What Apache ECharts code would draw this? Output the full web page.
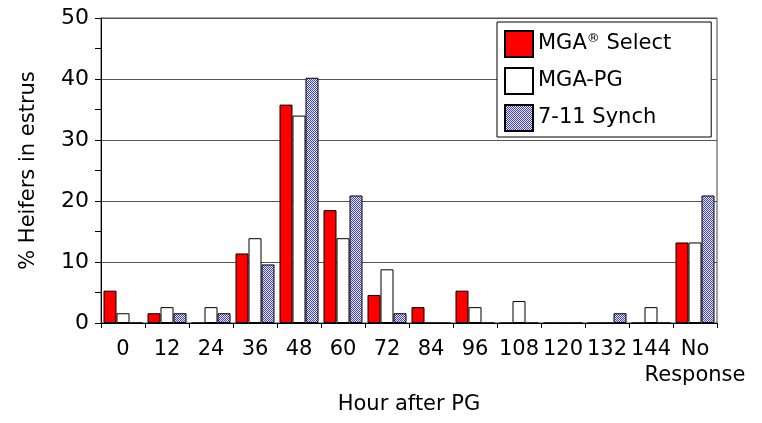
<!DOCTYPE html>
<html><head><meta charset="utf-8">
<script src="https://cdn.jsdelivr.net/npm/echarts@6/dist/echarts.min.js"></script>
<style>html,body{margin:0;padding:0;background:#fff}#c{width:762px;height:423px}</style>
</head><body><div id="c"></div>
<script>
var categories = ['0','12','24','36','48','60','72','84','96','108','120','132','144','No\nResponse'];
var seriesNames = ['MGA® Select','MGA-PG','7-11 Synch'];
var mgaSelect = [5.3,1.6,0,11.4,35.8,18.5,4.6,2.6,5.3,0,0,0,0,13.2];
var mgaPG     = [1.6,2.6,2.6,13.9,34.0,13.9,8.8,0,2.6,3.6,0,0,2.6,13.2];
var synch711  = [0,1.6,1.6,9.6,40.2,20.9,1.6,0,0,0,0,1.6,0,20.9];
var yTicks = [0,10,20,30,40,50];

var pc = document.createElement('canvas'); pc.width = 2; pc.height = 2;
var pctx = pc.getContext('2d');
pctx.fillStyle = '#e4e4fa'; pctx.fillRect(0,0,2,2);
pctx.fillStyle = '#4646b0'; pctx.fillRect(0,0,1,1); pctx.fillRect(1,1,1,1);

var FONT = 'DejaVu Sans';
var chart = echarts.init(document.getElementById('c'), null, {renderer:'canvas'});
function bar(name, data, color){
  return {name:name, type:'bar', data:data, barWidth:13, barGap:'0%',
    itemStyle:{color:color, borderColor:'#000', borderWidth:1}, emphasis:{disabled:true}};
}
chart.setOption({
  animation:false,
  textStyle:{fontFamily:FONT},
  grid:{left:101, right:45, top:18, bottom:100, show:true, borderColor:'#444', borderWidth:1, backgroundColor:'transparent'},
  legend:{orient:'vertical', left:497, top:22, padding:[8,40,5,7], itemGap:9, itemWidth:28, itemHeight:26,
    backgroundColor:'#fff', borderColor:'#000', borderWidth:1, icon:'rect',
    textStyle:{fontFamily:FONT, fontSize:21, color:'#000',
      rich:{sup:{fontFamily:FONT, fontSize:13, color:'#000', padding:[0,0,10,0]}}},
    formatter:function(n){ return n.replace('®','{sup|®}'); },
    data:seriesNames},
  xAxis:{type:'category', data:categories,
    axisLine:{lineStyle:{color:'#000', width:1}},
    axisTick:{show:true, length:5, lineStyle:{color:'#000'}},
    axisLabel:{interval:0, fontSize:21, color:'#000', margin:14, lineHeight:26, fontFamily:FONT},
    name:'Hour after PG', nameLocation:'middle', nameGap:50,
    nameTextStyle:{fontSize:21, color:'#000', fontFamily:FONT}},
  yAxis:{type:'value', min:yTicks[0], max:yTicks[yTicks.length-1], interval:10,
    axisLine:{show:true, lineStyle:{color:'#000'}},
    axisTick:{show:true, length:6, lineStyle:{color:'#000'}},
    minorTick:{show:true, splitNumber:2, length:6, lineStyle:{color:'#000'}},
    splitLine:{show:true, lineStyle:{color:'#555', width:1}},
    axisLabel:{fontSize:22, color:'#000', margin:12, fontFamily:FONT},
    name:'% Heifers in estrus', nameLocation:'middle', nameGap:62,
    nameTextStyle:{fontSize:21, color:'#000', fontFamily:FONT}},
  series:[bar(seriesNames[0], mgaSelect, '#ff0000'),
          bar(seriesNames[1], mgaPG, '#ffffff'),
          bar(seriesNames[2], synch711, {image:pc, repeat:'repeat'})]
});
</script></body></html>
